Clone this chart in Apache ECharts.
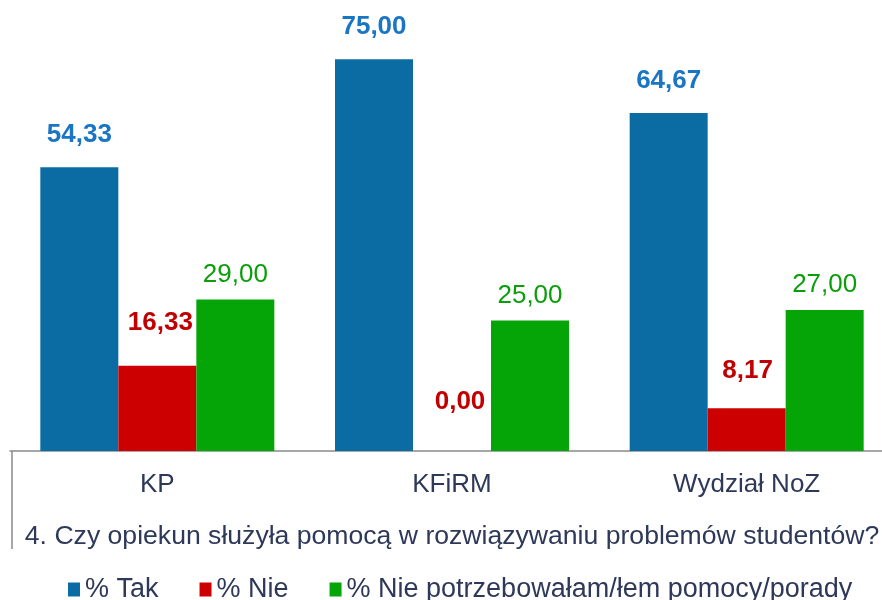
<!DOCTYPE html>
<html>
<head>
<meta charset="utf-8">
<script src="https://cdn.jsdelivr.net/npm/echarts@6/dist/echarts.min.js"></script>
<style>
html,body{margin:0;padding:0;background:#fff;}
#chart{width:882px;height:600px;}
</style>
</head>
<body>
<div id="chart"></div>
<script>
const categories = ['KP', 'KFiRM', 'Wydział NoZ'];
const seriesNames = ['% Tak', '% Nie', '% Nie potrzebowałam/łem pomocy/porady'];
const takValues = [54.33, 75.00, 64.67];
const nieValues = [16.33, 0.00, 8.17];
const niePotrzValues = [29.00, 25.00, 27.00];
const axisTitle = '4. Czy opiekun służyła pomocą w rozwiązywaniu problemów studentów?';

// label style tweaks (not data)
const nieLabelDistance = [30, 36, 24];
const nieLabelShiftX = [3, 8, 1];

const FONT = 'Liberation Sans, Arial, sans-serif';
const TEXT = '#2E3859';
const fmt = p => p.value.toFixed(2).replace('.', ',');

const chart = echarts.init(document.getElementById('chart'), null, {renderer: 'canvas'});
chart.setOption({
  animation: false,
  textStyle: {fontFamily: FONT},
  grid: {left: 10, width: 884, top: 33, bottom: 149, containLabel: false, outerBoundsMode: 'none'},
  legend: {
    data: seriesNames,
    top: 571,
    left: 63,
    itemWidth: 12,
    itemHeight: 14,
    itemGap: 41,
    icon: 'rect',
    textStyle: {fontSize: 27, color: TEXT, fontFamily: FONT}
  },
  xAxis: {
    type: 'category',
    data: categories,
    axisLine: {show: true, lineStyle: {color: '#8a8a8a', width: 1.5}},
    axisTick: {show: false},
    axisLabel: {fontSize: 26, color: TEXT, margin: 21, fontFamily: FONT},
    name: axisTitle,
    nameLocation: 'middle',
    nameGap: 72,
    nameTextStyle: {fontSize: 26.6, color: TEXT, fontFamily: FONT}
  },
  yAxis: {type: 'value', min: 0, max: 80, show: false, splitLine: {show: false}},
  graphic: [{
    type: 'line',
    shape: {x1: 12, y1: 451, x2: 12, y2: 549},
    style: {stroke: '#8a8a8a', lineWidth: 1.5}
  }],
  series: [
    {
      name: seriesNames[0], type: 'bar', data: takValues,
      barWidth: 78, barGap: '0%',
      itemStyle: {color: '#0A6CA3'},
      label: {show: true, position: 'top', distance: 19, formatter: fmt,
        fontSize: 26, fontWeight: 'bold', color: '#1A75C4', fontFamily: FONT}
    },
    {
      name: seriesNames[1], type: 'bar',
      data: nieValues.map((v, i) => ({value: v, label: {distance: nieLabelDistance[i], offset: [nieLabelShiftX[i], 0]}})),
      barWidth: 78, barGap: '0%',
      itemStyle: {color: '#CC0000'},
      label: {show: true, position: 'top', formatter: fmt,
        fontSize: 26, fontWeight: 'bold', color: '#C00000', fontFamily: FONT}
    },
    {
      name: seriesNames[2], type: 'bar', data: niePotrzValues,
      barWidth: 78, barGap: '0%',
      itemStyle: {color: '#05A508'},
      label: {show: true, position: 'top', distance: 12, formatter: fmt,
        fontSize: 26, color: '#0A9E0A', fontFamily: FONT}
    }
  ]
});
</script>
</body>
</html>
